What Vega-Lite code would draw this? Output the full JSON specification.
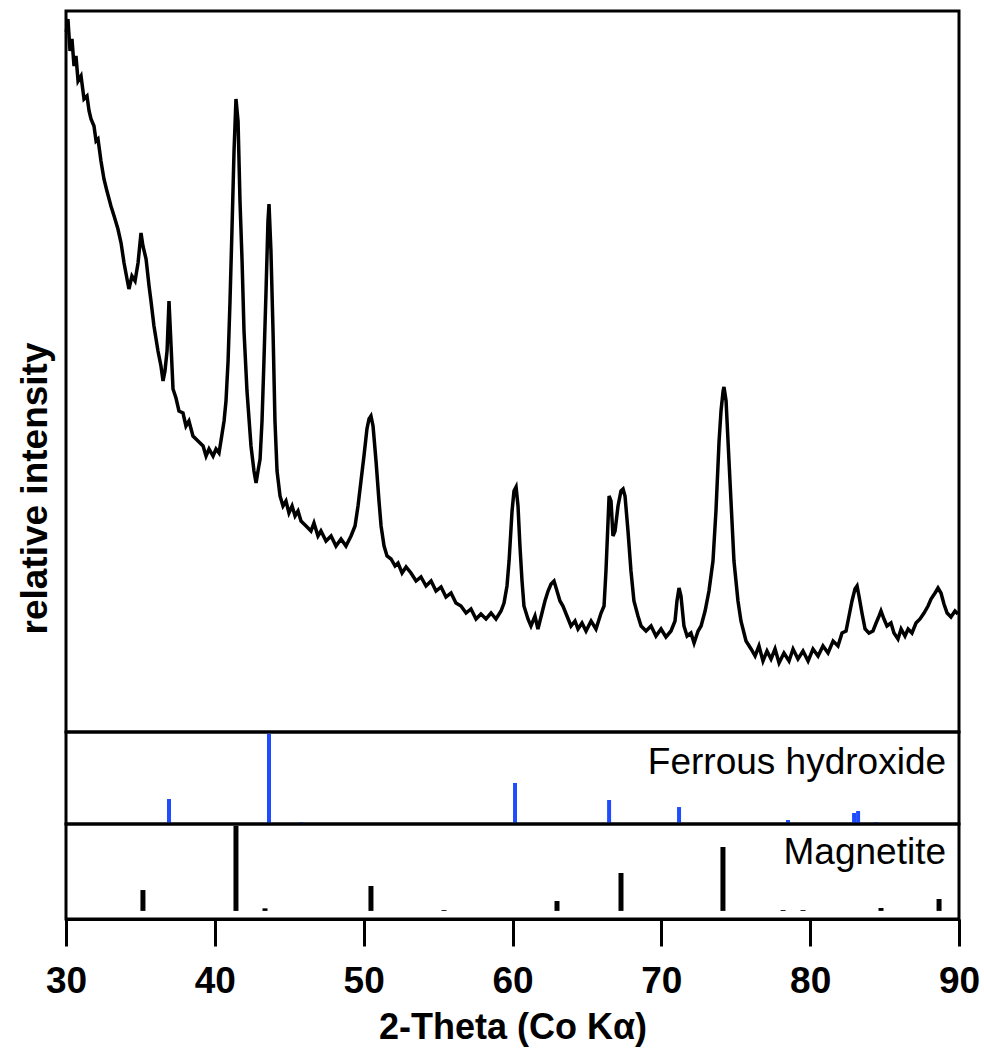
{
  "$schema": "https://vega.github.io/schema/vega-lite/v6.json",
  "padding": {"left": 14, "top": 9, "right": 20, "bottom": 5},
  "spacing": 0,
  "bounds": "flush",
  "config": {
    "view": {"stroke": "black", "strokeWidth": 3},
    "font": "Liberation Sans"
  },
  "datasets": {
    "xrd": [
      {"t":30.02,"i":700},{"t":30.13,"i":713},{"t":30.27,"i":681},{"t":30.40,"i":693},{"t":30.54,"i":666},{"t":30.67,"i":676},{"t":30.81,"i":651},{"t":31.01,"i":656},{"t":31.21,"i":633},{"t":31.41,"i":636},{"t":31.55,"i":621},{"t":31.68,"i":613},{"t":31.88,"i":606},{"t":32.02,"i":591},{"t":32.15,"i":593},{"t":32.35,"i":571},{"t":32.55,"i":553},{"t":32.75,"i":541},{"t":33.02,"i":526},{"t":33.23,"i":516},{"t":33.49,"i":503},{"t":33.70,"i":489},{"t":33.90,"i":469},{"t":34.10,"i":453},{"t":34.23,"i":443},{"t":34.43,"i":456},{"t":34.64,"i":451},{"t":34.84,"i":469},{"t":35.04,"i":499},{"t":35.17,"i":486},{"t":35.38,"i":473},{"t":35.58,"i":446},{"t":35.71,"i":431},{"t":35.91,"i":406},{"t":36.18,"i":381},{"t":36.38,"i":366},{"t":36.52,"i":351},{"t":36.65,"i":361},{"t":36.79,"i":381},{"t":36.92,"i":431},{"t":37.06,"i":386},{"t":37.19,"i":343},{"t":37.39,"i":334},{"t":37.59,"i":321},{"t":37.86,"i":319},{"t":38.06,"i":306},{"t":38.26,"i":311},{"t":38.53,"i":296},{"t":38.87,"i":291},{"t":39.21,"i":286},{"t":39.41,"i":276},{"t":39.61,"i":283},{"t":39.88,"i":276},{"t":40.08,"i":283},{"t":40.28,"i":279},{"t":40.41,"i":291},{"t":40.62,"i":311},{"t":40.75,"i":331},{"t":40.89,"i":371},{"t":41.02,"i":431},{"t":41.15,"i":501},{"t":41.29,"i":581},{"t":41.42,"i":633},{"t":41.56,"i":611},{"t":41.69,"i":531},{"t":41.83,"i":471},{"t":41.96,"i":401},{"t":42.16,"i":341},{"t":42.43,"i":286},{"t":42.63,"i":261},{"t":42.77,"i":249},{"t":42.90,"i":261},{"t":43.04,"i":273},{"t":43.17,"i":311},{"t":43.30,"i":371},{"t":43.44,"i":441},{"t":43.57,"i":511},{"t":43.64,"i":528},{"t":43.77,"i":481},{"t":43.91,"i":401},{"t":44.04,"i":311},{"t":44.18,"i":261},{"t":44.38,"i":236},{"t":44.58,"i":226},{"t":44.78,"i":231},{"t":44.98,"i":219},{"t":45.19,"i":226},{"t":45.39,"i":216},{"t":45.59,"i":221},{"t":45.79,"i":211},{"t":46.13,"i":206},{"t":46.46,"i":201},{"t":46.66,"i":209},{"t":46.93,"i":196},{"t":47.13,"i":201},{"t":47.47,"i":191},{"t":47.81,"i":196},{"t":48.14,"i":186},{"t":48.48,"i":193},{"t":48.81,"i":186},{"t":49.15,"i":196},{"t":49.42,"i":206},{"t":49.62,"i":226},{"t":49.82,"i":251},{"t":50.02,"i":276},{"t":50.22,"i":303},{"t":50.36,"i":313},{"t":50.49,"i":316},{"t":50.63,"i":306},{"t":50.83,"i":271},{"t":51.03,"i":231},{"t":51.17,"i":206},{"t":51.37,"i":186},{"t":51.57,"i":176},{"t":51.84,"i":173},{"t":52.11,"i":166},{"t":52.31,"i":169},{"t":52.58,"i":159},{"t":52.85,"i":165},{"t":53.18,"i":159},{"t":53.52,"i":151},{"t":53.85,"i":155},{"t":54.19,"i":146},{"t":54.53,"i":151},{"t":54.86,"i":141},{"t":55.20,"i":145},{"t":55.53,"i":135},{"t":55.87,"i":139},{"t":56.20,"i":129},{"t":56.54,"i":126},{"t":56.88,"i":119},{"t":57.21,"i":123},{"t":57.55,"i":113},{"t":57.88,"i":118},{"t":58.22,"i":113},{"t":58.56,"i":119},{"t":58.89,"i":113},{"t":59.23,"i":121},{"t":59.43,"i":129},{"t":59.63,"i":146},{"t":59.77,"i":171},{"t":59.97,"i":221},{"t":60.10,"i":241},{"t":60.24,"i":245},{"t":60.37,"i":226},{"t":60.50,"i":186},{"t":60.64,"i":151},{"t":60.77,"i":126},{"t":61.04,"i":113},{"t":61.24,"i":106},{"t":61.51,"i":116},{"t":61.71,"i":103},{"t":61.98,"i":119},{"t":62.18,"i":131},{"t":62.39,"i":141},{"t":62.59,"i":148},{"t":62.79,"i":151},{"t":62.99,"i":141},{"t":63.19,"i":131},{"t":63.39,"i":126},{"t":63.66,"i":116},{"t":63.93,"i":106},{"t":64.20,"i":111},{"t":64.40,"i":103},{"t":64.67,"i":109},{"t":64.94,"i":101},{"t":65.28,"i":111},{"t":65.61,"i":103},{"t":65.95,"i":119},{"t":66.15,"i":126},{"t":66.28,"i":161},{"t":66.42,"i":211},{"t":66.49,"i":236},{"t":66.62,"i":231},{"t":66.75,"i":196},{"t":66.89,"i":201},{"t":67.09,"i":226},{"t":67.29,"i":241},{"t":67.43,"i":243},{"t":67.56,"i":236},{"t":67.76,"i":201},{"t":67.96,"i":161},{"t":68.16,"i":131},{"t":68.43,"i":116},{"t":68.64,"i":106},{"t":68.97,"i":101},{"t":69.31,"i":106},{"t":69.64,"i":96},{"t":69.98,"i":103},{"t":70.31,"i":95},{"t":70.65,"i":101},{"t":70.92,"i":111},{"t":71.05,"i":131},{"t":71.19,"i":144},{"t":71.32,"i":136},{"t":71.52,"i":106},{"t":71.73,"i":96},{"t":71.99,"i":99},{"t":72.20,"i":89},{"t":72.47,"i":101},{"t":72.67,"i":106},{"t":72.94,"i":121},{"t":73.20,"i":141},{"t":73.47,"i":171},{"t":73.67,"i":221},{"t":73.88,"i":291},{"t":74.01,"i":321},{"t":74.15,"i":341},{"t":74.21,"i":345},{"t":74.35,"i":331},{"t":74.48,"i":291},{"t":74.68,"i":231},{"t":74.88,"i":171},{"t":75.15,"i":131},{"t":75.35,"i":111},{"t":75.69,"i":91},{"t":76.03,"i":83},{"t":76.30,"i":76},{"t":76.56,"i":86},{"t":76.83,"i":71},{"t":77.10,"i":81},{"t":77.37,"i":73},{"t":77.64,"i":83},{"t":77.91,"i":69},{"t":78.24,"i":79},{"t":78.58,"i":71},{"t":78.85,"i":83},{"t":79.18,"i":73},{"t":79.52,"i":81},{"t":79.86,"i":71},{"t":80.19,"i":83},{"t":80.53,"i":76},{"t":80.86,"i":86},{"t":81.20,"i":79},{"t":81.54,"i":91},{"t":81.87,"i":86},{"t":82.14,"i":99},{"t":82.41,"i":101},{"t":82.61,"i":116},{"t":82.81,"i":131},{"t":83.01,"i":143},{"t":83.15,"i":146},{"t":83.28,"i":136},{"t":83.48,"i":119},{"t":83.69,"i":103},{"t":83.95,"i":99},{"t":84.22,"i":101},{"t":84.43,"i":109},{"t":84.63,"i":116},{"t":84.76,"i":121},{"t":84.96,"i":113},{"t":85.16,"i":106},{"t":85.43,"i":109},{"t":85.63,"i":99},{"t":85.90,"i":93},{"t":86.11,"i":103},{"t":86.37,"i":96},{"t":86.58,"i":103},{"t":86.84,"i":99},{"t":87.11,"i":109},{"t":87.38,"i":113},{"t":87.65,"i":119},{"t":87.92,"i":126},{"t":88.12,"i":133},{"t":88.39,"i":139},{"t":88.59,"i":144},{"t":88.79,"i":139},{"t":88.99,"i":128},{"t":89.20,"i":119},{"t":89.46,"i":115},{"t":89.73,"i":121},{"t":89.93,"i":118}
    ],
    "feoh2": [
      {"t":36.92,"i":27.7},{"t":43.64,"i":100},{"t":45.79,"i":2},{"t":60.17,"i":45.5},{"t":66.49,"i":26.6},{"t":71.19,"i":18.8},{"t":78.51,"i":4.4},{"t":82.95,"i":12.2},{"t":83.22,"i":14.4},{"t":84.43,"i":2}
    ],
    "magnetite": [
      {"t":35.17,"i":24.5},{"t":41.42,"i":100},{"t":43.37,"i":3},{"t":50.49,"i":29.2},{"t":55.40,"i":1},{"t":62.99,"i":11.6},{"t":67.29,"i":44.5},{"t":74.14,"i":75},{"t":78.18,"i":1},{"t":79.52,"i":1},{"t":84.76,"i":3.4},{"t":88.66,"i":14}
    ],
    "labels": [
      {"name":"Ferrous hydroxide","t":89.13,"y":55},
      {"name":"Magnetite","t":89.13,"y":55}
    ]
  },
  "vconcat": [
    {
      "width": 893,
      "height": 721,
      "data": {"name": "xrd"},
      "mark": {"type": "line", "color": "black", "strokeWidth": 3.5, "strokeJoin": "miter"},
      "encoding": {
        "x": {"field": "t", "type": "quantitative", "scale": {"domain": [30, 90], "nice": false}, "axis": null},
        "y": {"field": "i", "type": "quantitative", "scale": {"domain": [0, 721], "nice": false, "zero": false},
          "axis": {"title": "relative intensity", "domain": false, "ticks": false, "labels": false, "grid": false,
            "titleFont": "Liberation Sans", "titleFontWeight": "bold", "titleFontSize": 37, "titleColor": "black",
            "titlePadding": 12, "titleY": 477, "titleAlign": "center"}}
      }
    },
    {
      "width": 893,
      "height": 92,
      "layer": [
        {
          "data": {"name": "feoh2"},
          "mark": {"type": "rule", "color": "#1f4cff", "strokeWidth": 4},
          "encoding": {
            "x": {"field": "t", "type": "quantitative", "scale": {"domain": [30, 90], "nice": false}, "axis": null},
            "y": {"field": "i", "type": "quantitative", "scale": {"domain": [0, 102], "nice": false}, "axis": null},
            "y2": {"datum": 0}
          }
        },
        {
          "data": {"name": "labels"},
          "transform": [{"filter": "datum.name === 'Ferrous hydroxide'"}],
          "mark": {"type": "text", "align": "right", "baseline": "alphabetic", "fontSize": 37, "font": "Liberation Sans", "color": "black"},
          "encoding": {
            "x": {"field": "t", "type": "quantitative"},
            "y": {"field": "y", "type": "quantitative"},
            "text": {"field": "name"}
          }
        }
      ]
    },
    {
      "width": 893,
      "height": 95,
      "layer": [
        {
          "data": {"name": "magnetite"},
          "mark": {"type": "rule", "color": "black", "strokeWidth": 5},
          "encoding": {
            "x": {"field": "t", "type": "quantitative", "scale": {"domain": [30, 90], "nice": false},
              "axis": {"title": "2-Theta (Co Kα)", "values": [30, 40, 50, 60, 70, 80, 90], "grid": false,
                "domainColor": "black", "domainWidth": 3, "tickColor": "black", "tickWidth": 3, "tickSize": 27,
                "labelFont": "Liberation Sans", "labelFontWeight": "bold", "labelFontSize": 37, "labelColor": "black",
                "labelPadding": 17, "labelFlush": false,
                "titleFont": "Liberation Sans", "titleFontWeight": "bold", "titleFontSize": 36, "titleColor": "black",
                "titlePadding": 11}},
            "y": {"field": "i", "type": "quantitative", "scale": {"domain": [-9.5, 102], "nice": false, "zero": false}, "axis": null},
            "y2": {"datum": 0}
          }
        },
        {
          "data": {"name": "labels"},
          "transform": [{"filter": "datum.name === 'Magnetite'"}],
          "mark": {"type": "text", "align": "right", "baseline": "alphabetic", "fontSize": 37, "font": "Liberation Sans", "color": "black"},
          "encoding": {
            "x": {"field": "t", "type": "quantitative"},
            "y": {"field": "y", "type": "quantitative"},
            "text": {"field": "name"}
          }
        }
      ]
    }
  ]
}
